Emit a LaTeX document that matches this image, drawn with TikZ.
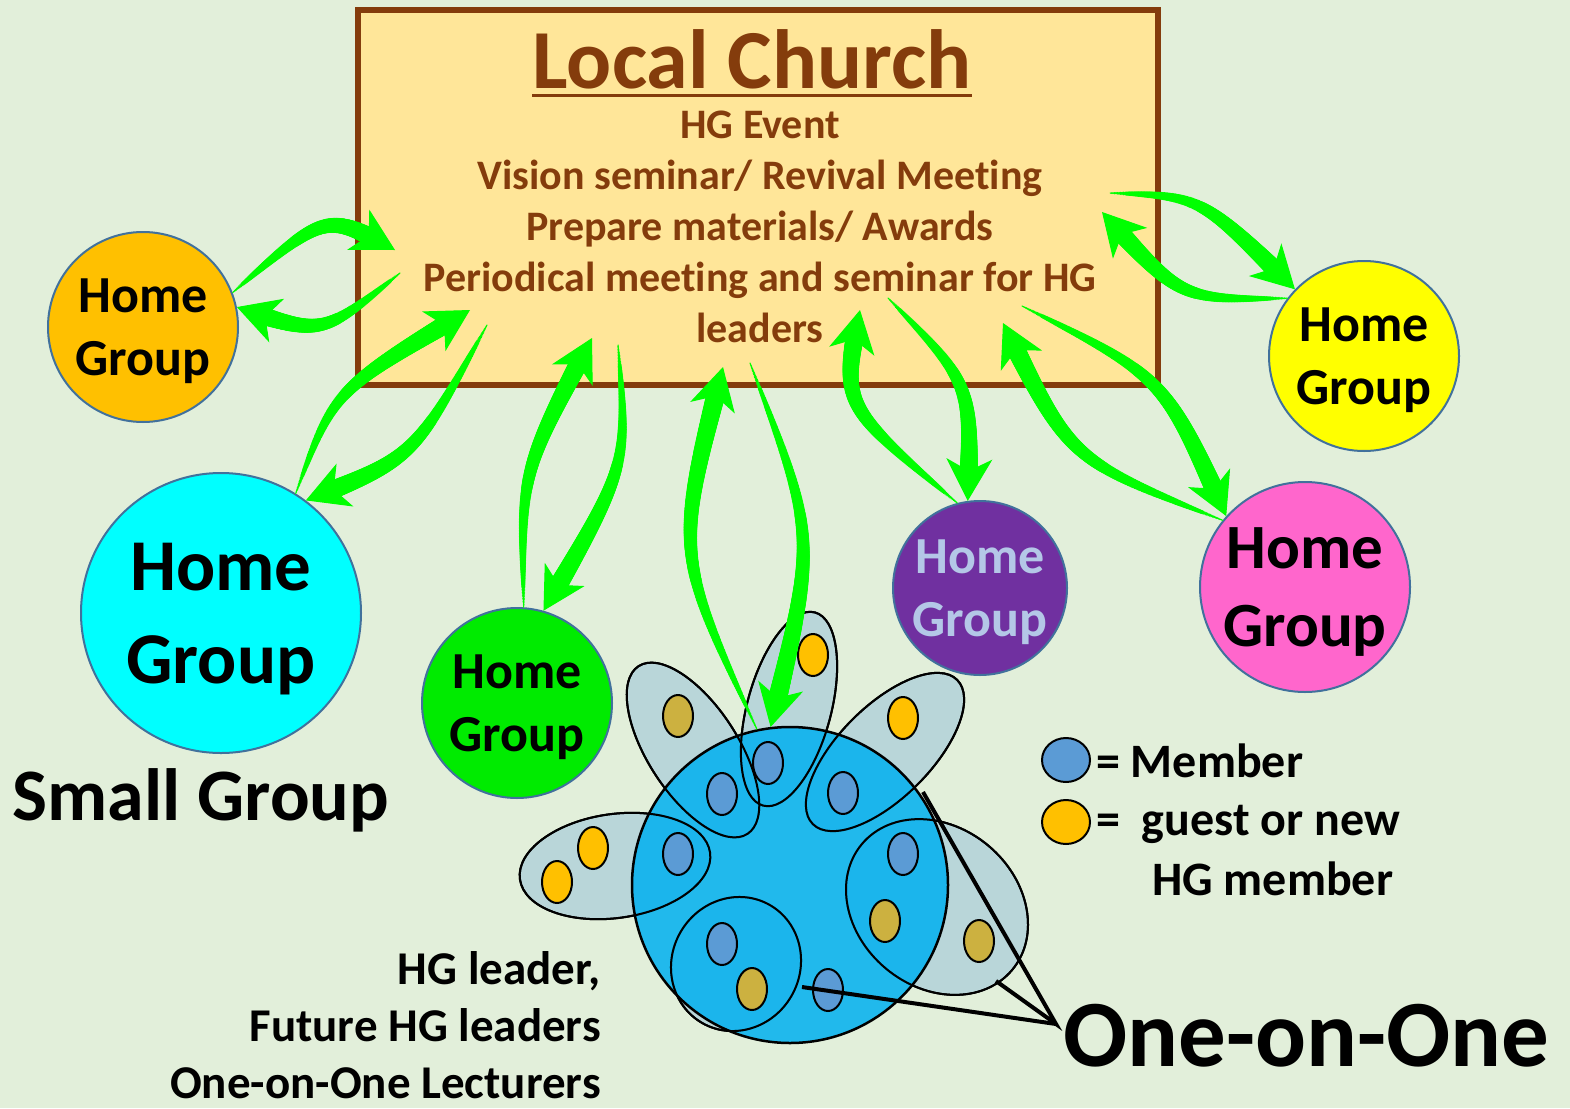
\documentclass[tikz,border=0pt]{standalone}
\usepackage{fontspec}
\setmainfont{Carlito}[RawFeature=-liga]
\usetikzlibrary{arrows.meta,decorations.markings}
\definecolor{bgcol}{RGB}{226,239,218}
\definecolor{boxfill}{RGB}{255,230,153}
\definecolor{boxline}{RGB}{132,60,12}
\definecolor{flowgreen}{RGB}{0,255,0}
\definecolor{hgline}{RGB}{65,113,156}
\definecolor{hgorange}{RGB}{255,192,0}
\definecolor{hgyellow}{RGB}{255,255,0}
\definecolor{hgcyan}{RGB}{0,255,255}
\definecolor{hggreen}{RGB}{0,235,0}
\definecolor{hgpurple}{RGB}{112,48,160}
\definecolor{hgpink}{RGB}{255,102,204}
\definecolor{purpletext}{RGB}{180,199,231}
\definecolor{blobblue}{RGB}{0,176,240}
\definecolor{satfill}{RGB}{185,214,217}
\definecolor{memberblue}{RGB}{91,155,213}
\definecolor{guestorange}{RGB}{255,192,0}
\definecolor{guestgold}{RGB}{204,177,64}
\tikzset{
  hg/.style={circle,draw=hgline,line width=2pt,align=center,inner sep=0pt,text depth=0pt,
             font=\bfseries\fontsize{52}{63}\selectfont},
  sat/.style={draw=black,line width=2pt},
  member/.style={draw=black,line width=2pt,fill=memberblue},
  guest/.style={draw=black,line width=2pt,fill=guestorange},
  guestold/.style={draw=black,line width=2pt,fill=guestgold},
  flowarrow/.style={flowgreen,line width=1pt,
    -{Stealth[length=42pt,width=46pt,inset=12pt]},
    postaction={decorate,decoration={markings,
      mark=between positions 0 and -30pt step 1.5pt with {
        \pgfmathsetmacro\taper{0.5+9.5*pow(\pgfkeysvalueof{/pgf/decoration/mark info/distance from start}/\pgfdecoratedpathlength,0.7)}
        \fill[flowgreen] (0,0) circle (\taper pt);}}}}
}

\begin{document}
\begin{tikzpicture}[x=1pt,y=-1pt]
  \useasboundingbox (0,0) rectangle (1570,1108);
  \fill[bgcol] (0,0) rectangle (1570,1108);

  % Local church box
  \node[rectangle,draw=boxline,line width=6pt,fill=boxfill,
        minimum width=800pt,minimum height=375pt] (church) at (758,197.5) {};
  \node[anchor=base,inner sep=0pt,text=boxline,
        font=\bfseries\fontsize{84}{100}\selectfont] (title) at (752,88) {Local Church};
  \draw[boxline,line width=3pt] ([yshift=-7pt]title.base west) -- ([yshift=-7pt]title.base east);
  \node[anchor=north,inner sep=0pt,align=center,text=boxline,
        font=\bfseries\fontsize{42}{51}\selectfont] (tasks) at (760,111)
    {HG Event\\Vision seminar/ Revival Meeting\\Prepare materials/ Awards\\
     Periodical meeting and seminar for HG\\leaders};

  % Home groups
  \node[hg,fill=hgorange,minimum size=190pt] (hgOrange) at (143,327) {Home\\Group};
  \node[hg,fill=hgyellow,minimum size=190pt] (hgYellow) at (1364,356) {Home\\Group};
  \node[hg,fill=hgcyan,minimum size=280pt,font=\bfseries\fontsize{73}{93}\selectfont] (hgCyan) at (221,613) {Home\\Group};
  \node[hg,fill=hggreen,minimum size=190pt] (hgGreen) at (517,703) {Home\\Group};
  \node[hg,fill=hgpurple,text=purpletext,minimum size=174pt] (hgPurple) at (980,588) {Home\\Group};
  \node[hg,fill=hgpink,minimum size=210pt,font=\bfseries\fontsize{63}{78}\selectfont] (hgPink) at (1305,587) {Home\\Group};
  \node[anchor=base,font=\bfseries\fontsize{74}{90}\selectfont] (small) at (201,820) {Small Group};

  % One-on-one groups
  \draw[sat,fill=satfill,rotate around={-57:(693,750)}] (693,750) ellipse (100 and 45);
  \draw[sat,fill=satfill,rotate around={75:(789,709)}] (789,709) ellipse (100 and 42);
  \draw[sat,fill=satfill,rotate around={45:(885,752)}] (885,752) ellipse (102 and 46);
  \draw[sat,fill=satfill,rotate around={-40:(937,907)}] (937,907) ellipse (98 and 80);
  \draw[sat,fill=satfill,rotate around={60:(736,964)}] (736,964) ellipse (68 and 64);
  \draw[sat,fill=satfill,rotate around={8:(615,866)}] (615,866) ellipse (96 and 52);
  \node[circle,draw=black,line width=2.5pt,fill=blobblue,fill opacity=0.85,
        minimum size=316pt] (blob) at (790,885) {};
  \draw[sat,rotate around={-57:(693,750)}] (693,750) ellipse (100 and 45);
  \draw[sat,rotate around={75:(789,709)}] (789,709) ellipse (100 and 42);
  \draw[sat,rotate around={45:(885,752)}] (885,752) ellipse (102 and 46);
  \draw[sat,rotate around={-40:(937,907)}] (937,907) ellipse (98 and 80);
  \draw[sat,rotate around={60:(736,964)}] (736,964) ellipse (68 and 64);
  \draw[sat,rotate around={8:(615,866)}] (615,866) ellipse (96 and 52);

  \draw[member] (678,854) ellipse (15 and 21);
  \draw[member] (722,794) ellipse (15 and 21);
  \draw[member] (768,763) ellipse (15 and 21);
  \draw[member] (843,793) ellipse (15 and 21);
  \draw[member] (903,854) ellipse (15 and 21);
  \draw[member] (722,944) ellipse (15 and 21);
  \draw[member] (828,990) ellipse (15 and 21);
  \draw[guest] (557,882) ellipse (15 and 21);
  \draw[guest] (593,848) ellipse (15 and 21);
  \draw[guest] (813,655) ellipse (15 and 21);
  \draw[guest] (903,718) ellipse (15 and 21);
  \draw[guestold] (678,716) ellipse (15 and 21);
  \draw[guestold] (885,921) ellipse (15 and 21);
  \draw[guestold] (979,941) ellipse (15 and 21);
  \draw[guestold] (752,989) ellipse (15 and 21);

  % pointer to one-on-one
  \coordinate (apex) at (1056,1024);
  \coordinate (oneA) at (923,792);
  \coordinate (oneB) at (996,981);
  \coordinate (oneC) at (802,987);
  \draw[line width=4pt] (oneA) -- (apex) -- (oneB);
  \draw[line width=4pt] (oneC) -- (apex);
  \node[anchor=base west,inner sep=0pt,font=\bfseries\fontsize{95}{110}\selectfont] (oneonone) at (1063,1066) {One-on-One};

  % legend
  \draw[member] (1066,760) ellipse (24 and 22);
  \draw[guest] (1066,822) ellipse (24 and 22);
  \node[anchor=base west,inner sep=0pt,font=\bfseries\fontsize{48}{59}\selectfont] (lgMember) at (1096,777) {= Member};
  \node[anchor=base west,inner sep=0pt,font=\bfseries\fontsize{48}{59}\selectfont] (lgGuest) at (1096,835) {=\ \ guest or new};
  \node[anchor=base west,inner sep=0pt,font=\bfseries\fontsize{48}{59}\selectfont] (lgGuest2) at (1152,895) {HG member};

  \node[anchor=south east,inner sep=0pt,align=right,
        font=\bfseries\fontsize{47}{57}\selectfont] (leaders) at (601,1099)
    {HG leader,\\Future HG leaders\\One-on-One Lecturers};

  % flows between church and groups
  \coordinate (cOa) at (395,250);
  \coordinate (cOb) at (400,273);
  \coordinate (cCa) at (470,310);
  \coordinate (cCb) at (487,325);
  \coordinate (cGa) at (592,338);
  \coordinate (cGb) at (618,345);
  \coordinate (cBa) at (723,367);
  \coordinate (cBb) at (750,363);
  \coordinate (cPa) at (860,310);
  \coordinate (cPb) at (888,298);
  \coordinate (cKa) at (1003,323);
  \coordinate (cKb) at (1022,306);
  \coordinate (cYa) at (1110,193);
  \coordinate (cYb) at (1102,212);

  \draw[flowarrow] (hgOrange.21) .. controls (326,212) .. (cOa);
  \draw[flowarrow] (cOb) .. controls (322,336) .. (hgOrange.12);
  \draw[flowarrow] (hgCyan.58) .. controls (334,390) .. (cCa);
  \draw[flowarrow] (cCb) .. controls (414,458) .. (hgCyan.53);
  \draw[flowarrow] (hgGreen.86) .. controls (521,472) .. (cGa);
  \draw[flowarrow] (cGb) .. controls (628,466) .. (hgGreen.74);
  \draw[flowarrow] (blob.102) .. controls (675,553) .. (cBa);
  \draw[flowarrow] (cBb) .. controls (817,537) .. (blob.97);
  \draw[flowarrow] (hgPurple.105) .. controls (841,405) .. (cPa);
  \draw[flowarrow] (cPb) .. controls (972,384) .. (hgPurple.98);
  \draw[flowarrow] (hgPink.141) .. controls (1070,460) .. (cKa);
  \draw[flowarrow] (cKb) .. controls (1164,377) .. (hgPink.138);
  \draw[flowarrow] (cYa) .. controls (1201,196) .. (hgYellow.136);
  \draw[flowarrow] (hgYellow.143) .. controls (1181,300) .. (cYb);
\end{tikzpicture}
\end{document}
